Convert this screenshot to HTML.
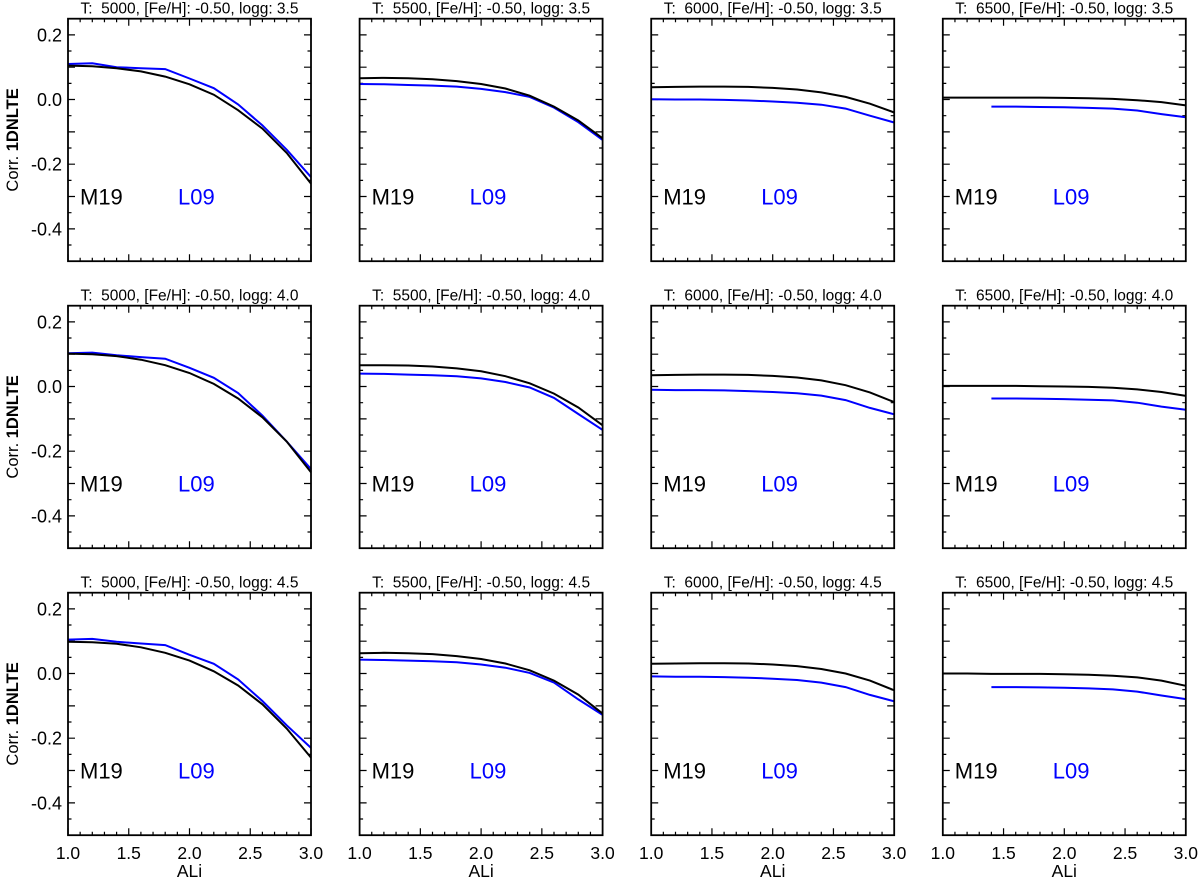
<!DOCTYPE html>
<html><head><meta charset="utf-8"><style>
html,body{margin:0;padding:0;background:#fff;}
svg{display:block;font-family:"Liberation Sans",Arial,sans-serif;}
</style></head><body>
<svg id="chart" width="1200" height="879" viewBox="0 0 1200 879" xmlns="http://www.w3.org/2000/svg"></svg>
<script>
const aliValues = [1.0,1.2,1.4,1.6,1.8,2.0,2.2,2.4,2.6,2.8,3.0];
const aliBlue65 = [1.4,1.6,1.8,2.0,2.2,2.4,2.6,2.8,3.0];
const temps = [5000,5500,6000,6500];
const loggs = ["3.5","4.0","4.5"];
const xTicks = [1.0,1.5,2.0,2.5,3.0];
const xTickLabels = ["1.0","1.5","2.0","2.5","3.0"];
const yTicks = [0.2,0.0,-0.2,-0.4];
const yTickLabels = ["0.2","0.0","-0.2","-0.4"];
// M19 (black) series, row-major [logg][temp]
const m19 = [
 [[0.105,0.103,0.097,0.087,0.071,0.047,0.015,-0.033,-0.09,-0.165,-0.26],
  [0.066,0.067,0.066,0.063,0.057,0.048,0.034,0.012,-0.022,-0.065,-0.12],
  [0.038,0.039,0.040,0.040,0.039,0.036,0.031,0.022,0.008,-0.013,-0.040],
  [0.006,0.006,0.006,0.006,0.006,0.005,0.004,0.002,-0.002,-0.008,-0.018]],
 [[0.102,0.100,0.094,0.083,0.066,0.042,0.008,-0.037,-0.095,-0.17,-0.265],
  [0.066,0.066,0.065,0.062,0.056,0.047,0.032,0.01,-0.022,-0.065,-0.12],
  [0.035,0.036,0.037,0.037,0.036,0.033,0.028,0.019,0.004,-0.018,-0.048],
  [0.002,0.002,0.002,0.002,0.001,0.0,-0.001,-0.004,-0.009,-0.017,-0.029]],
 [[0.098,0.097,0.092,0.081,0.064,0.04,0.007,-0.037,-0.095,-0.17,-0.26],
  [0.063,0.064,0.063,0.06,0.054,0.045,0.031,0.01,-0.022,-0.065,-0.124],
  [0.03,0.031,0.032,0.032,0.031,0.028,0.023,0.014,0.0,-0.022,-0.052],
  [0.0,0.0,-0.001,-0.001,-0.001,-0.002,-0.004,-0.007,-0.012,-0.022,-0.038]]
];
// L09 (blue) series
const l09 = [
 [[0.11,0.112,0.1,0.097,0.094,0.065,0.035,-0.015,-0.08,-0.155,-0.24],
  [0.048,0.047,0.045,0.043,0.040,0.033,0.023,0.008,-0.025,-0.07,-0.125],
  [0.001,0.0,0.0,-0.001,-0.003,-0.006,-0.01,-0.016,-0.028,-0.05,-0.071],
  [-0.022,-0.022,-0.023,-0.024,-0.026,-0.028,-0.034,-0.045,-0.055]],
 [[0.103,0.105,0.097,0.091,0.086,0.058,0.027,-0.02,-0.09,-0.17,-0.255],
  [0.04,0.039,0.037,0.035,0.032,0.025,0.014,-0.003,-0.035,-0.085,-0.134],
  [-0.010,-0.011,-0.011,-0.012,-0.014,-0.017,-0.021,-0.028,-0.042,-0.066,-0.086],
  [-0.037,-0.037,-0.038,-0.039,-0.041,-0.043,-0.05,-0.062,-0.072]],
 [[0.105,0.107,0.098,0.093,0.088,0.058,0.030,-0.018,-0.085,-0.16,-0.23],
  [0.043,0.042,0.04,0.038,0.035,0.028,0.018,0.002,-0.028,-0.08,-0.128],
  [-0.009,-0.01,-0.01,-0.011,-0.013,-0.016,-0.02,-0.028,-0.042,-0.066,-0.086],
  [-0.042,-0.042,-0.043,-0.044,-0.046,-0.049,-0.056,-0.068,-0.079]]
];

const NS="http://www.w3.org/2000/svg";
const svg=document.getElementById('chart');
const PW=243, PH=242.5, colX=[68,359.6,651.2,942.8], rowY=[18.7,305.7,592.7];
const XMIN=1,XMAX=3,YMIN=-0.5,YMAX=0.25;
function mk(tag,attrs,parent){const e=document.createElementNS(NS,tag);for(const k in attrs)e.setAttribute(k,attrs[k]);(parent||svg).appendChild(e);return e;}
for(let r=0;r<3;r++){for(let c=0;c<4;c++){
  const x0=colX[c], y0=rowY[r];
  const sx=v=>x0+(v-XMIN)/(XMAX-XMIN)*PW;
  const sy=v=>y0+(YMAX-v)/(YMAX-YMIN)*PH;
  const g=mk('g',{});
  
  
  const t=mk('text',{x:x0+PW/2,y:y0-5,'text-anchor':'middle','font-size':15.5,fill:'#000'},g);
  
  
  t.textContent='T:\u00a0 '+temps[c]+', [Fe/H]: -0.50, logg: '+loggs[r];
  // ticks
  let d='';
  for(let i=0;i<=20;i++){const v=1+i*0.1;const L=(i%5===0)?7:3.5;const X=sx(v);d+=`M${X},${y0+PH}v${-L}M${X},${y0}v${L}`;}
  for(let i=0;i<=15;i++){const v=-0.5+i*0.05;const k=Math.round(v*100);const L=(k%10===0)?7:3.5;const Y=sy(v);d+=`M${x0},${Y}h${L}M${x0+PW},${Y}h${-L}`;}
  const tk=mk('path',{d:d,stroke:'#000','stroke-width':1.2,fill:'none'},g);
  
  
  // series
  const bx=aliValues, lx=(c===3)?aliBlue65:aliValues;
  const pb=m19[r][c].map((v,i)=>`${i?'L':'M'}${sx(bx[i]).toFixed(1)},${sy(v).toFixed(1)}`).join('');
  const pl=l09[r][c].map((v,i)=>`${i?'L':'M'}${sx(lx[i]).toFixed(1)},${sy(v).toFixed(1)}`).join('');
  const lb=mk('path',{d:pl,stroke:'#0000ff','stroke-width':2,fill:'none'},g);
  
  
  const mb=mk('path',{d:pb,stroke:'#000','stroke-width':2,fill:'none'},g);
  
  
  const fr=mk('rect',{x:x0,y:y0,width:PW,height:PH,fill:'none',stroke:'#000','stroke-width':1.8},g);
  
  
  const m=mk('text',{x:x0+12,y:sy(-0.3)+8,'font-size':22,fill:'#000'},g);
  
  
  m.textContent='M19';
  const l=mk('text',{x:x0+110,y:sy(-0.3)+8,'font-size':22,fill:'#0000ff'},g);
  
  
  l.textContent='L09';
  if(c===0){
    yTicks.forEach((v,i)=>{const yt=mk('text',{x:x0-6,y:sy(v)+6.5,'text-anchor':'end','font-size':18,fill:'#000'},g);
      
      
      yt.textContent=yTickLabels[i];});
    const yl=mk('text',{transform:`translate(18,${y0+PH/2}) rotate(-90)`,'text-anchor':'middle','font-size':16.5,fill:'#000'},g);
    
    
    yl.innerHTML='Corr. <tspan font-weight="bold">1DNLTE</tspan>';
  }
  if(r===2){
    xTicks.forEach((v,i)=>{const xt=mk('text',{x:sx(v),y:y0+PH+24,'text-anchor':'middle','font-size':17.5,fill:'#000'},g);
      
      
      xt.textContent=xTickLabels[i];});
    const xl=mk('text',{x:x0+PW/2,y:y0+PH+42,'text-anchor':'middle','font-size':17.5,fill:'#000'},g);
    
    
    xl.textContent='ALi';
  }
}}
</script>
</body></html>
